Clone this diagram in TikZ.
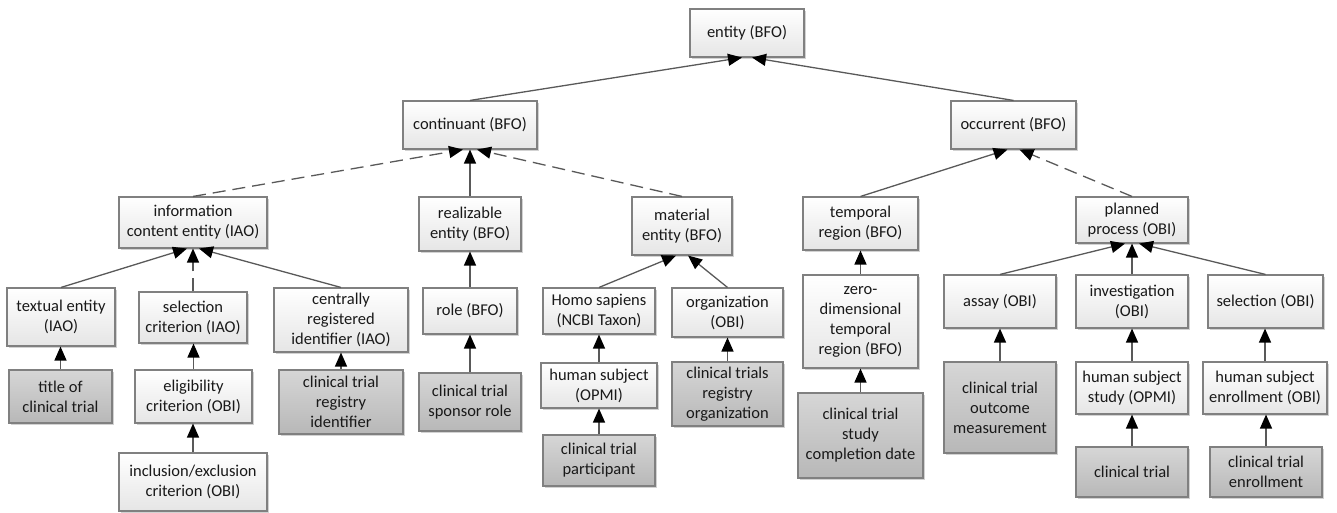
\documentclass[tikz,border=0pt]{standalone}
\usepackage{fontspec}
\setmainfont{Carlito}
\usetikzlibrary{arrows.meta,shadows}
\tikzset{
 box/.style={rectangle, draw=black!50, line width=1.1pt, align=center, inner sep=0pt,
   text=black!90, font=\fontsize{16.5}{20}\selectfont,
   drop shadow={shadow xshift=1.8pt, shadow yshift=-1.8pt, fill=black!35, opacity=0.5}},
 wbox/.style={box, top color=white, bottom color=black!10},
 gbox/.style={box, top color=black!16, bottom color=black!28},
 isa/.style={draw=black!65, line width=1.3pt, -{Triangle[length=14pt,width=12pt,color=black]}},
 dsh/.style={isa, dash pattern=on 13pt off 7pt},
}
\newcommand\bx[7]{\node[#1, minimum width=#5pt, minimum height=#6pt] (#2) at (#3,#4) {#7};}
\begin{document}
\begin{tikzpicture}[x=1pt,y=-1pt]
\useasboundingbox (0,0) rectangle (1337,513);
% level 0-1
\bx{wbox}{entity}{747}{33}{114}{48}{entity (BFO)}
\bx{wbox}{continuant}{470}{125}{134}{48}{continuant (BFO)}
\bx{wbox}{occurrent}{1013.5}{125}{125}{48}{occurrent (BFO)}
% level 2
\bx{wbox}{ice}{193}{222.5}{148}{51}{information\\content entity (IAO)}
\bx{wbox}{realizable}{470}{224}{102}{54}{realizable\\entity (BFO)}
\bx{wbox}{material}{682}{226}{100}{58}{material\\entity (BFO)}
\bx{wbox}{temporal}{860.5}{223.5}{115}{53}{temporal\\region (BFO)}
\bx{wbox}{planned}{1132}{220}{112}{46}{planned\\process (OBI)}
% level 3
\bx{wbox}{textual}{61}{317}{108}{58}{textual entity\\(IAO)}
\bx{wbox}{selcrit}{193}{317.5}{108}{51}{selection\\criterion (IAO)}
\bx{wbox}{centrally}{341}{320}{134}{64}{centrally\\registered\\identifier (IAO)}
\bx{wbox}{role}{470}{311}{94}{46}{role (BFO)}
\bx{wbox}{homo}{599}{311}{112}{46}{Homo sapiens\\(NCBI Taxon)}
\bx{wbox}{org}{727.5}{312.5}{111}{49}{organization\\(OBI)}
\bx{wbox}{zerodim}{860.5}{321.5}{115}{93}{zero-\\dimensional\\temporal\\region (BFO)}
\bx{wbox}{assay}{1000}{301.5}{112}{53}{assay (OBI)}
\bx{wbox}{invest}{1132}{301.5}{112}{53}{investigation\\(OBI)}
\bx{wbox}{selection}{1265.5}{301.5}{115}{53}{selection (OBI)}
% level 4
\bx{gbox}{title}{60.5}{396.5}{103}{53}{title of\\clinical trial}
\bx{wbox}{elig}{193.5}{396.5}{117}{53}{eligibility\\criterion (OBI)}
\bx{gbox}{ctri}{341}{402}{124}{64}{clinical trial\\registry\\identifier}
\bx{gbox}{sponsor}{470}{402}{102}{58}{clinical trial\\sponsor role}
\bx{wbox}{hsubj}{599}{385.5}{116}{45}{human subject\\(OPMI)}
\bx{gbox}{ctro}{727.5}{394}{111}{64}{clinical trials\\registry\\organization}
\bx{gbox}{completion}{860.5}{435.5}{125}{85}{clinical trial\\study\\completion date}
\bx{gbox}{outcome}{1000}{407.5}{112}{91}{clinical trial\\outcome\\measurement}
\bx{wbox}{hss}{1132}{388}{112}{52}{human subject\\study (OPMI)}
\bx{wbox}{hse}{1265}{388}{124}{52}{human subject\\enrollment (OBI)}
% level 5
\bx{wbox}{incl}{193}{482}{148}{58}{inclusion/exclusion\\criterion (OBI)}
\bx{gbox}{participant}{599}{460.5}{112}{51}{clinical trial\\participant}
\bx{gbox}{ct}{1132}{472}{112}{50}{clinical trial}
\bx{gbox}{cte}{1266}{472}{112}{50}{clinical trial\\enrollment}
% edges
\draw[isa] (continuant.north) -- ([xshift=-5pt]entity.south);
\draw[isa] (occurrent.north) -- ([xshift=5pt]entity.south);
\draw[dsh] (ice.north) -- ([xshift=-7pt]continuant.south);
\draw[isa] (realizable.north) -- (continuant.south);
\draw[dsh] (material.north) -- ([xshift=7pt]continuant.south);
\draw[isa] (temporal.north) -- ([xshift=-6pt]occurrent.south);
\draw[dsh] (planned.north) -- ([xshift=6pt]occurrent.south);
\draw[isa] (textual.north) -- ([xshift=-6pt]ice.south);
\draw[dsh] (selcrit.north) -- (ice.south);
\draw[isa] (centrally.north) -- ([xshift=6pt]ice.south);
\draw[isa] (homo.north) -- ([xshift=-6pt]material.south);
\draw[isa] (org.north) -- ([xshift=6pt]material.south);
\draw[isa] (assay.north) -- ([xshift=-7pt]planned.south);
\draw[isa] (invest.north) -- (planned.south);
\draw[isa] (selection.north) -- ([xshift=7pt]planned.south);
\foreach \c/\p in {title/textual, elig/selcrit, incl/elig, ctri/centrally, role/realizable,
  sponsor/role, hsubj/homo, participant/hsubj, ctro/org, zerodim/temporal,
  completion/zerodim, outcome/assay, hss/invest, ct/hss, hse/selection, cte/hse}
  \draw[isa] (\c.north) -- (\c.north |- \p.south);
\end{tikzpicture}
\end{document}
